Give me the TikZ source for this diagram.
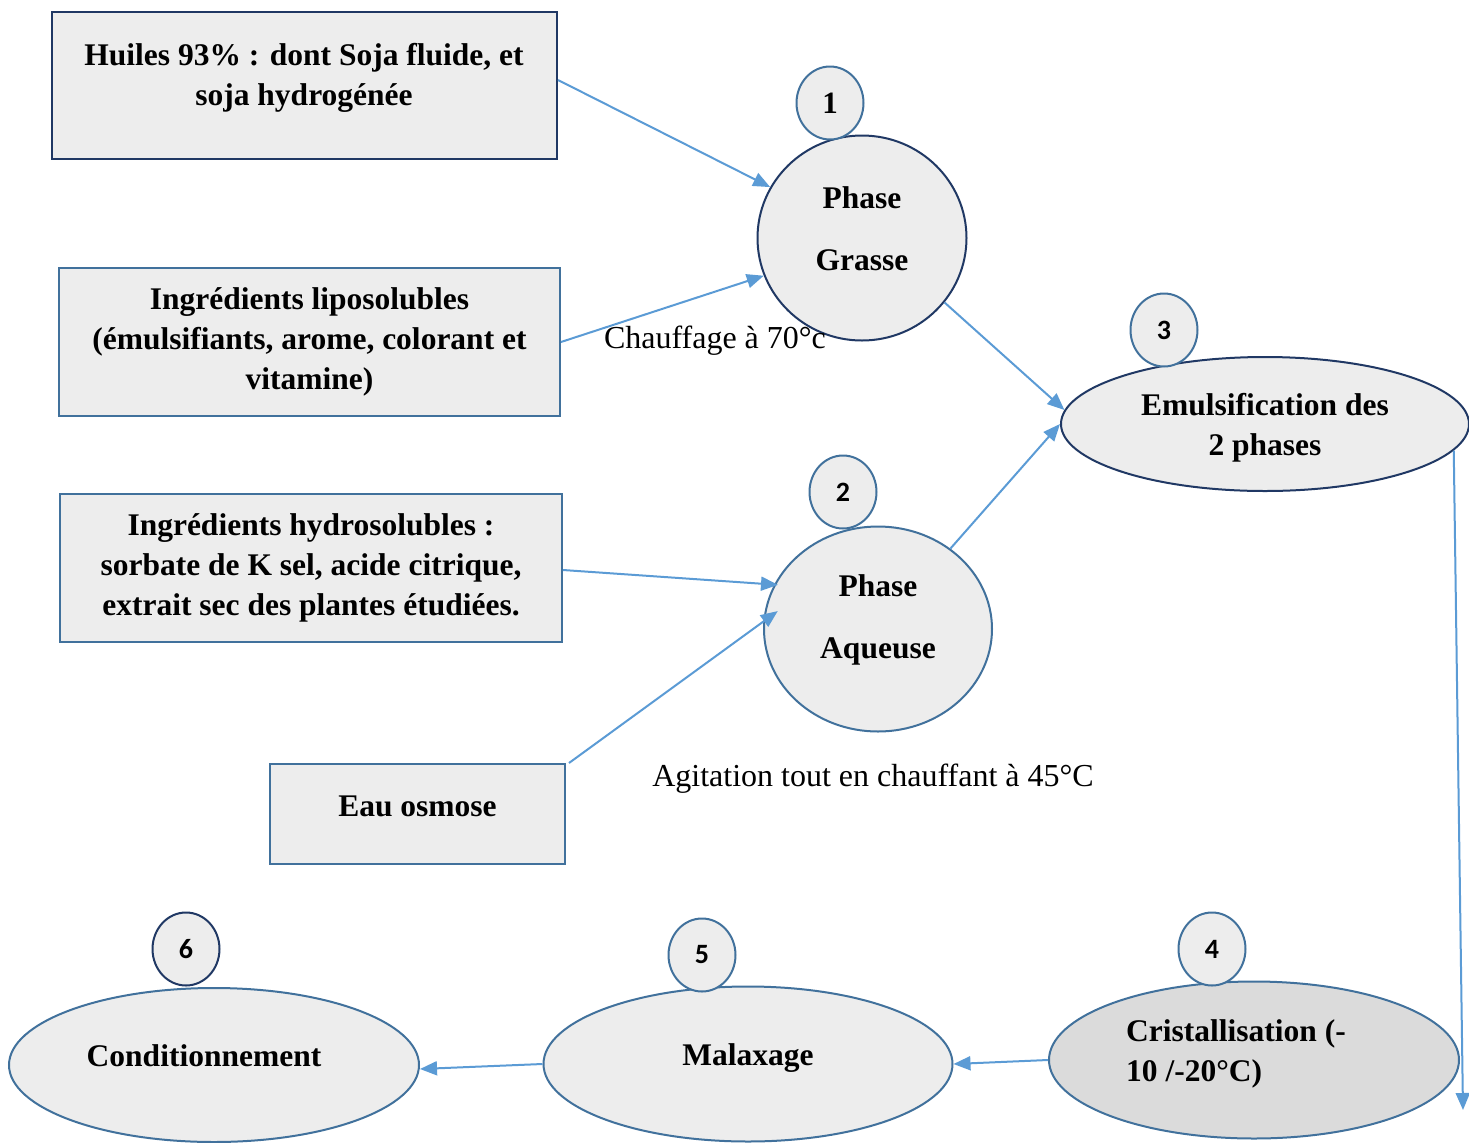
\documentclass[tikz,border=0pt]{standalone}
\usepackage{fontspec}
\setmainfont{Liberation Serif}
\newfontfamily\numfont{Carlito}
\usetikzlibrary{shapes.geometric,arrows.meta}
\definecolor{navy}{HTML}{203864}
\definecolor{midblue}{HTML}{41719C}
\definecolor{arrowblue}{HTML}{5B9BD5}
\definecolor{lightfill}{HTML}{EDEDED}
\definecolor{darkfill}{HTML}{DBDBDB}
\begin{document}
\begin{tikzpicture}[x=0.5pt,y=-0.5pt,
  box/.style={rectangle,draw=midblue,line width=1pt,fill=lightfill,inner sep=0pt,
    align=center,font=\fontsize{15.75}{20}\selectfont\bfseries},
  oval/.style={ellipse,draw=midblue,line width=1pt,fill=lightfill,inner sep=0pt},
  numc/.style={ellipse,draw=midblue,line width=1pt,fill=lightfill,inner sep=0pt,
    minimum width=33.5pt,minimum height=36.5pt,font=\numfont\fontsize{14}{16}\selectfont\bfseries},
  txt/.style={inner sep=0pt,align=center,font=\fontsize{15.75}{20}\selectfont\bfseries},
  plain/.style={inner sep=0pt,font=\fontsize{16}{19}\selectfont},
  arr/.style={draw=arrowblue,line width=1pt,-{Triangle[length=8.5pt,width=7pt]}}]
\useasboundingbox (0,0) rectangle (1469,1142);

% input boxes
\node[box,draw=navy,minimum width=252.5pt,minimum height=73.5pt] (b1) at (304.5,85.5) {};
\node[txt] (b1t) at (304,77.5) {Huiles 93\% : dont Soja fluide, et\\soja hydrogénée};
\node[box,minimum width=250.5pt,minimum height=74pt] (b2) at (309.5,342)
  {Ingrédients liposolubles\\(émulsifiants, arome, colorant et\\vitamine)};
\node[box,minimum width=251pt,minimum height=74pt] (b3) at (311,568)
  {Ingrédients hydrosolubles :\\sorbate de K sel, acide citrique,\\extrait sec des plantes étudiées.};
\node[box,minimum width=147.5pt,minimum height=50pt] (b4) at (417.5,814) {};
\node[txt] (b4t) at (417.5,806) {Eau osmose};

% process shapes
\node[oval,draw=navy,minimum width=104.5pt,minimum height=102.5pt] (pg) at (862,238) {};
\node[txt] (pgt) at (862,229) {Phase\\[11pt]Grasse};
\node[oval,minimum width=114pt,minimum height=102.5pt] (pa) at (878,629) {};
\node[txt] (pat) at (878,620) {Phase\\[11pt]Aqueuse};
\node[oval,draw=navy,minimum width=204pt,minimum height=67pt] (em) at (1265,424) {};
\node[txt] (emt) at (1265,428) {Emulsification des\\2 phases};
\node[oval,fill=darkfill,minimum width=205pt,minimum height=78.5pt] (cr) at (1254,1060) {};
\node[txt,align=left] (crt) at (1236,1054) {Cristallisation (-\\10 /-20°C)};
\node[oval,minimum width=204.5pt,minimum height=77.5pt] (ma) at (748,1064) {};
\node[txt] (mat) at (748,1058) {Malaxage};
\node[oval,minimum width=205pt,minimum height=77pt] (co) at (214,1065) {};
\node[txt] (cot) at (204,1056) {Conditionnement};

% number circles
\node[numc,font=\fontsize{15.5}{16}\selectfont\bfseries] (n1) at (830,103) {1};
\node[numc] (n2) at (843,492) {2};
\node[numc] (n3) at (1164,330) {3};
\node[numc] (n4) at (1212,949) {4};
\node[numc] (n5) at (702,955) {5};
\node[numc,draw=navy] (n6) at (186,949) {6};

% labels
\node[plain] (l1) at (715,341) {Chauffage à 70°c};
\node[plain] (l2) at (873,779) {Agitation tout en chauffant à 45°C};

% connectors
\coordinate (endR) at (1463,1110);
\draw[arr] ([yshift=2.75pt]b1.east) -- (pg.151);
\draw[arr] (b2.east) -- (pg.201.5);
\draw[arr] (pg.-38) -- (em.176);
\draw[arr] (pa.48.4) -- (em.west);
\draw[arr] ([yshift=-1pt]b3.east) -- ([xshift=2pt]pa.157.7);
\draw[arr] ([xshift=1.5pt]b4.north east) -- ([xshift=6.5pt]pa.171.5);
\draw[arr] (em.-8.8) -- (endR);
\draw[arr] (cr.west) -- (ma.east);
\draw[arr] (ma.west) -- ([yshift=-2pt]co.east);
\end{tikzpicture}
\end{document}
